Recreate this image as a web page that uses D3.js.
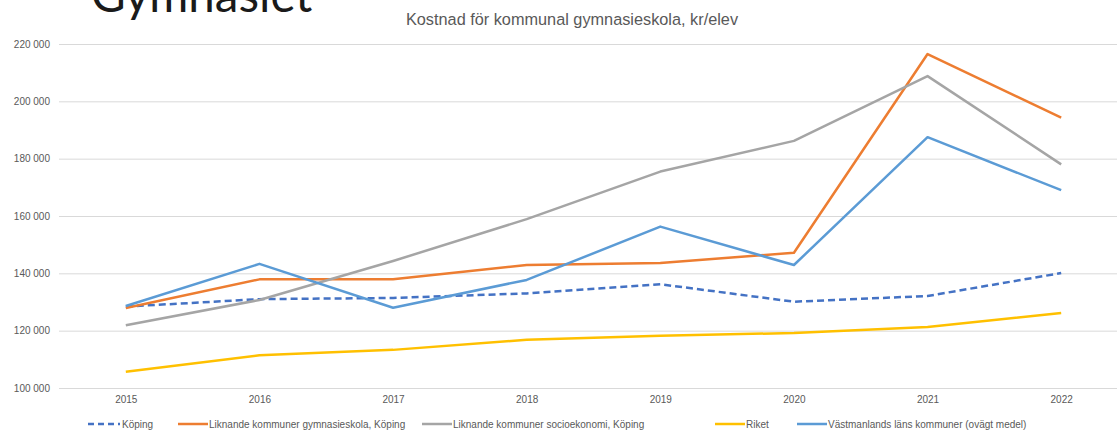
<!DOCTYPE html>
<html>
<head>
<meta charset="utf-8">
<script src="https://cdn.jsdelivr.net/npm/d3@7"></script>
<style>
  body { margin: 0; background: #fff; }
  svg { display: block; }
</style>
</head>
<body>
<svg id="chart"></svg>
<script>
// ---- DATA ----
const years = ['2015', '2016', '2017', '2018', '2019', '2020', '2021', '2022'];
const yTicks = [100000, 120000, 140000, 160000, 180000, 200000, 220000];

const koping = [128400, 131000, 131400, 133000, 136200, 130100, 132100, 140100];
const liknandeGymn = [127900, 137900, 137900, 142900, 143600, 147200, 216500, 194300];
const liknandeSocio = [121900, 130700, 144300, 158900, 175500, 186200, 208800, 178000];
const riket = [105700, 111400, 113300, 116800, 118200, 119200, 121300, 126200];
const vastmanland = [128600, 143300, 128000, 137700, 156300, 142900, 187500, 169000];

const seriesNames = [
  'Köping',
  'Liknande kommuner gymnasieskola, Köping',
  'Liknande kommuner socioekonomi, Köping',
  'Riket',
  'Västmanlands läns kommuner (ovägt medel)'
];

const series = [
  {name: seriesNames[0], values: koping, color: '#4472C4', dash: '7,4'},
  {name: seriesNames[1], values: liknandeGymn, color: '#ED7D31', dash: null},
  {name: seriesNames[2], values: liknandeSocio, color: '#A5A5A5', dash: null},
  {name: seriesNames[3], values: riket, color: '#FFC000', dash: null},
  {name: seriesNames[4], values: vastmanland, color: '#5B9BD5', dash: null}
];

const width = 1117, height = 430;
const margin = {top: 44, right: -11, bottom: 42, left: 59};
const innerW = width - margin.left - margin.right;
const innerH = height - margin.top - margin.bottom;

const svg = d3.select('#chart').attr('width', width).attr('height', height);

// big page title, partly cut off at the top (as in the slide)
svg.append('text')
  .attr('x', 91).attr('y', 12)
  .attr('font-family', 'Lato, "Open Sans", sans-serif')
  .attr('font-size', 47.5)
  .attr('fill', '#1a1a1a')
  .text('Gymnasiet');

svg.append('text')
  .attr('x', 572).attr('y', 25)
  .attr('text-anchor', 'middle')
  .attr('font-family', '"Liberation Sans", Arial, sans-serif')
  .attr('font-size', 16.3)
  .attr('fill', '#595959')
  .text('Kostnad för kommunal gymnasieskola, kr/elev');

const chart = svg.append('g').attr('transform', `translate(${margin.left},${margin.top})`);

const x = d3.scalePoint().domain(years).range([0, innerW]).padding(0.5);
const y = d3.scaleLinear().domain([100000, 220000]).range([innerH, 0]);

const fmt = v => d3.format(',')(v).replace(/,/g, ' ');

// gridlines
const yAxis = d3.axisLeft(y).tickValues(yTicks).tickSize(-innerW).tickFormat(fmt).tickPadding(9);
const yg = chart.append('g').call(yAxis);
yg.select('.domain').remove();
yg.selectAll('.tick line').attr('stroke', '#d9d9d9').attr('stroke-width', 1);
yg.selectAll('.tick text')
  .attr('font-family', '"Liberation Sans", Arial, sans-serif')
  .attr('font-size', 10).attr('fill', '#595959');

const xAxis = d3.axisBottom(x).tickSize(0).tickPadding(8);
const xg = chart.append('g').attr('transform', `translate(0,${innerH})`).call(xAxis);
xg.select('.domain').remove();
xg.selectAll('.tick text')
  .attr('font-family', '"Liberation Sans", Arial, sans-serif')
  .attr('font-size', 10).attr('fill', '#595959');

// lines
const line = d3.line().x((d, i) => x(years[i])).y(d => y(d));
chart.selectAll('.series')
  .data(series)
  .join('path')
  .attr('class', 'series')
  .attr('d', d => line(d.values))
  .attr('fill', 'none')
  .attr('stroke', d => d.color)
  .attr('stroke-width', 2.5)
  .attr('stroke-dasharray', d => d.dash)
  .attr('stroke-linejoin', 'round');

// legend
const legendX = [88, 178, 422, 715, 797];
const legendY = 424;
const legend = svg.append('g');
const items = legend.selectAll('g').data(series).join('g')
  .attr('transform', (d, i) => `translate(${legendX[i]},${legendY})`);
items.append('line')
  .attr('x1', 0).attr('x2', (d, i) => i === 0 ? 32 : 30)
  .attr('y1', 0).attr('y2', 0)
  .attr('stroke', d => d.color).attr('stroke-width', 2.5)
  .attr('stroke-dasharray', d => d.dash ? '6,4' : null);
items.append('text')
  .attr('x', (d, i) => i === 0 ? 34 : 31).attr('y', 3.5)
  .attr('font-family', '"Liberation Sans", Arial, sans-serif')
  .attr('font-size', 10).attr('fill', '#595959')
  .text(d => d.name);
</script>
</body>
</html>
